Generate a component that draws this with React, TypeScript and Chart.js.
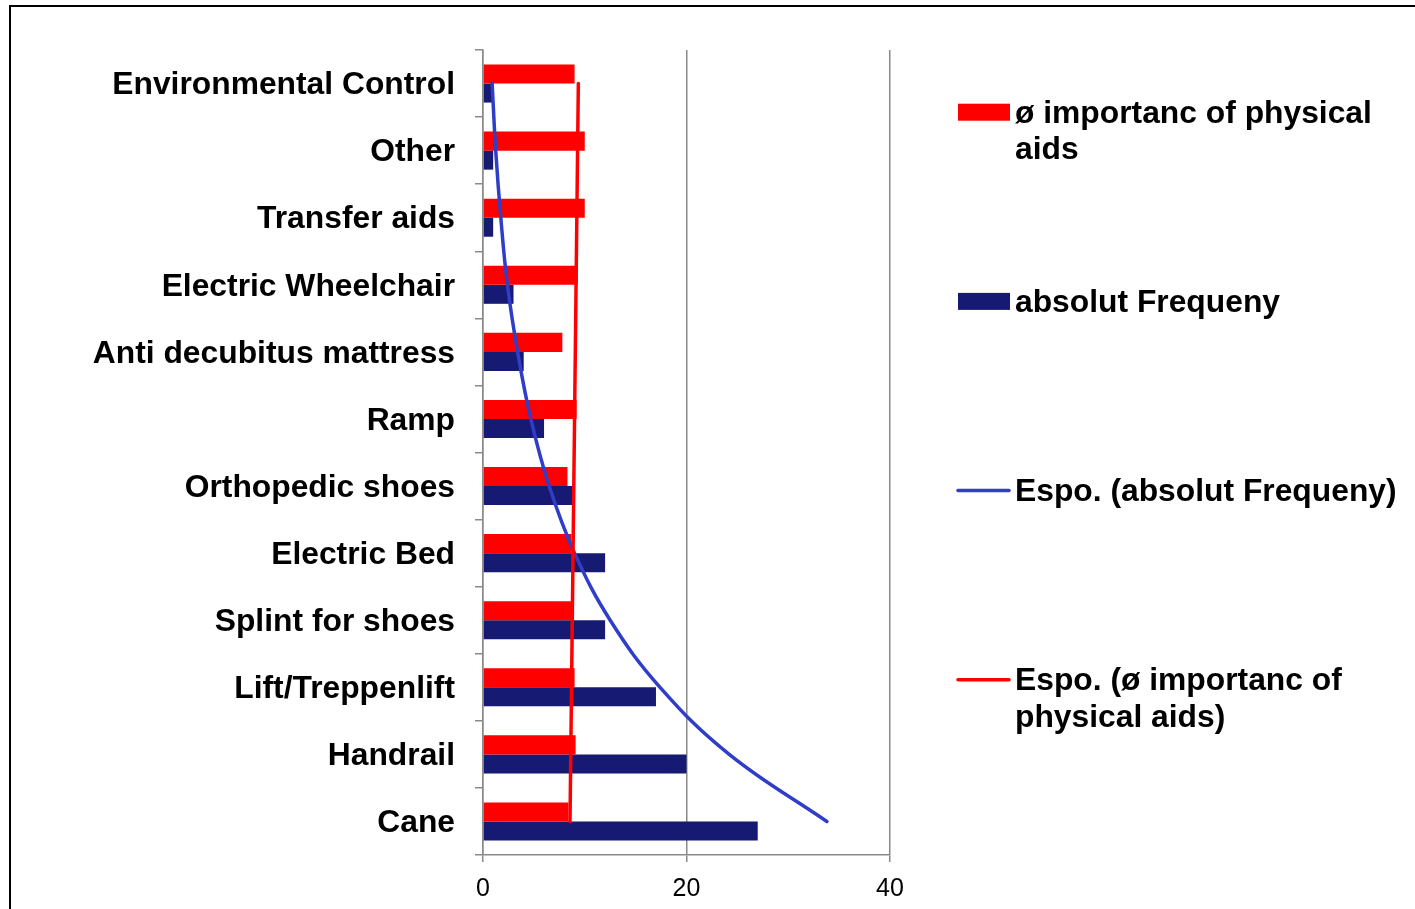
import React, { useEffect, useRef } from "react";
import { Chart, registerables } from "chart.js";

Chart.register(...registerables);

const categories = [
  "Environmental Control",
  "Other",
  "Transfer aids",
  "Electric Wheelchair",
  "Anti decubitus mattress",
  "Ramp",
  "Orthopedic shoes",
  "Electric Bed",
  "Splint for shoes",
  "Lift/Treppenlift",
  "Handrail",
  "Cane",
];
const importance = [9.0, 10.0, 10.0, 9.3, 7.8, 9.2, 8.3, 8.7, 8.9, 9.0, 9.1, 8.4];
const frequency = [1, 1, 1, 3, 4, 6, 9, 12, 12, 17, 20, 27];
const frequencyTrend = [0.9, 1.25, 1.75, 2.4, 3.4, 4.7, 6.5, 9.0, 12.5, 17.4, 24.2, 33.8];
const importanceTrend: (number | null)[] = [9.37, null, null, null, null, null, null, null, null, null, null, 8.55];
const xTickValues = [0, 20, 40];
const seriesLabels = [
  "ø importanc of physical aids",
  "absolut Frequeny",
  "Espo. (absolut Frequeny)",
  "Espo. (ø importanc of physical aids)",
];

const FAMILY = "'Liberation Sans', Arial, Helvetica, sans-serif";
const RED = "#FF0000";
const NAVY = "#171A73";
const BLUE = "#2F3DC9";
const GRID = "#8A8A8A";

function wrapText(ctx: CanvasRenderingContext2D, text: string, maxW: number): string[] {
  const words = text.split(" ");
  const lines: string[] = [];
  let cur = "";
  for (const w of words) {
    const test = cur ? cur + " " + w : w;
    if (ctx.measureText(test).width > maxW && cur) {
      lines.push(cur);
      cur = w;
    } else {
      cur = test;
    }
  }
  if (cur) lines.push(cur);
  return lines;
}

const sideLegend = {
  id: "sideLegend",
  afterDraw(chart: any) {
    const ctx: CanvasRenderingContext2D = chart.ctx;
    ctx.save();
    ctx.font = `bold 31.8px ${FAMILY}`;
    ctx.textBaseline = "alphabetic";
    ctx.textAlign = "left";
    const ds = chart.data.datasets;
    const kinds = ["box", "box", "line", "line"];
    ds.forEach((d: any, i: number) => {
      const base = 122.5 + i * 189.2;
      const cy = base - 10.3;
      if (kinds[i] === "box") {
        ctx.fillStyle = d.backgroundColor;
        ctx.fillRect(958, cy - 8.5, 52, 17);
      } else {
        ctx.strokeStyle = d.borderColor;
        ctx.lineWidth = 3.5;
        ctx.lineCap = "round";
        ctx.beginPath();
        ctx.moveTo(958, cy);
        ctx.lineTo(1009, cy);
        ctx.stroke();
      }
      ctx.fillStyle = "#000";
      const lines = wrapText(ctx, d.label, 400);
      lines.forEach((ln, j) => ctx.fillText(ln, 1015, base + j * 36.8));
    });
    ctx.restore();
  },
};

export default function App() {
  const ref = useRef<HTMLCanvasElement | null>(null);

  useEffect(() => {
    if (!ref.current) return;
    const chart = new Chart(ref.current, {
      data: {
        labels: categories,
        datasets: [
          {
            type: "bar",
            label: seriesLabels[0],
            data: importance,
            backgroundColor: RED,
            borderWidth: 0,
            categoryPercentage: 0.567,
            barPercentage: 1,
            order: 2,
          },
          {
            type: "bar",
            label: seriesLabels[1],
            data: frequency,
            backgroundColor: NAVY,
            borderWidth: 0,
            categoryPercentage: 0.567,
            barPercentage: 1,
            order: 2,
          },
          {
            type: "line",
            label: seriesLabels[2],
            data: frequencyTrend,
            borderColor: BLUE,
            backgroundColor: BLUE,
            borderWidth: 3.5,
            pointRadius: 0,
            tension: 0.4,
            borderCapStyle: "round",
            fill: false,
            order: 1,
          },
          {
            type: "line",
            label: seriesLabels[3],
            data: importanceTrend,
            borderColor: RED,
            backgroundColor: RED,
            borderWidth: 3.5,
            pointRadius: 0,
            spanGaps: true,
            borderCapStyle: "round",
            fill: false,
            order: 0,
          },
        ] as any,
      },
      options: {
        indexAxis: "y",
        responsive: false,
        animation: false,
        events: [],
        layout: { padding: { top: 50, right: 525, left: 0, bottom: 0 } },
        plugins: {
          legend: { display: false },
          tooltip: { enabled: false },
          title: { display: false },
        },
        scales: {
          y: {
            type: "category",
            offset: true,
            afterFit: (s: any) => {
              s.width = 483;
            },
            grid: {
              offset: true,
              drawOnChartArea: false,
              drawTicks: true,
              tickLength: 8,
              color: GRID,
              lineWidth: 1.5,
            },
            border: { display: true, color: GRID, width: 1.5 },
            ticks: {
              color: "#000",
              padding: 20,
              labelOffset: 2,
              font: { family: FAMILY, size: 31.8, weight: "bold" },
            },
          },
          x: {
            type: "linear",
            min: 0,
            max: 40,
            afterFit: (s: any) => {
              s.height = 54;
            },
            afterBuildTicks: (s: any) => {
              s.ticks = xTickValues.map((v) => ({ value: v }));
            },
            grid: {
              drawOnChartArea: true,
              drawTicks: true,
              tickLength: 7,
              color: GRID,
              lineWidth: 1.5,
            },
            border: { display: true, color: GRID, width: 1.5 },
            ticks: {
              color: "#000",
              padding: 12,
              font: { family: FAMILY, size: 25 },
            },
          },
        },
      } as any,
      plugins: [sideLegend],
    });
    return () => chart.destroy();
  }, []);

  return (
    <div style={{ position: "fixed", left: 0, top: 0, width: 1415, height: 909, overflow: "hidden", background: "#fff" }}>
      <canvas ref={ref} width={1415} height={909} style={{ position: "absolute", left: 0, top: 0, width: 1415, height: 909 }} />
      <div
        style={{
          position: "absolute",
          left: 9,
          top: 5,
          width: 1440,
          height: 940,
          border: "2px solid #000",
          pointerEvents: "none",
        }}
      />
    </div>
  );
}
